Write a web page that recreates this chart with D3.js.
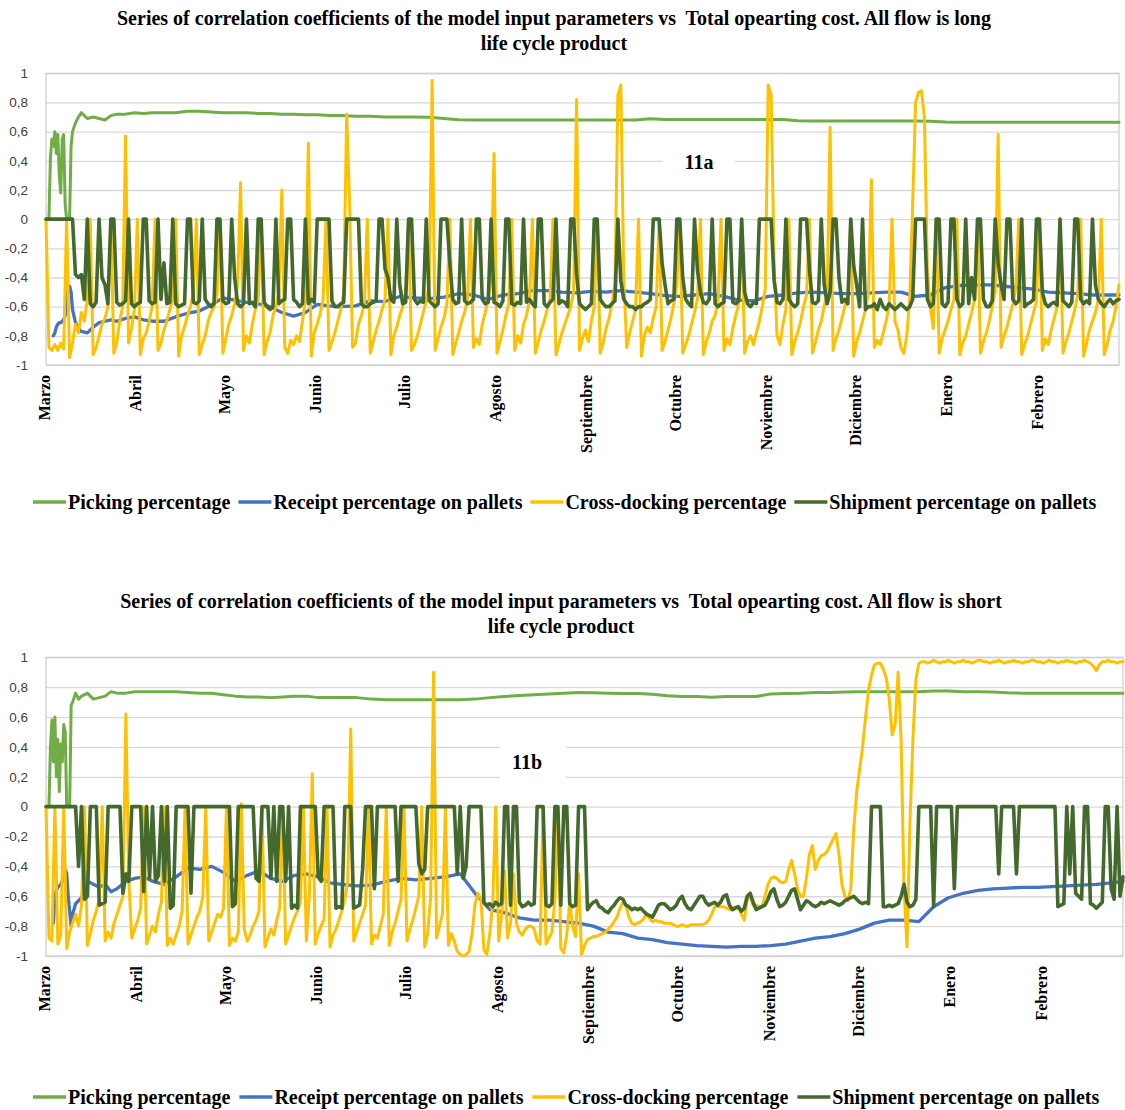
<!DOCTYPE html>
<html>
<head>
<meta charset="utf-8">
<script src="https://cdn.jsdelivr.net/npm/d3@7"></script>
<style>
  body { margin: 0; background: #fff; }
  svg { display: block; }
</style>
</head>
<body>
<svg id="chart" width="1125" height="1110"></svg>
<script>
// ---- Axis labels ----
const months = ["Marzo","Abril","Mayo","Junio","Julio","Agosto","Septiembre","Octubre","Noviembre","Diciembre","Enero","Febrero"];
const monthStartDays = [0,31,61,92,122,153,184,214,245,275,306,337];
const yTicks = [-1,-0.8,-0.6,-0.4,-0.2,0,0.2,0.4,0.6,0.8,1];

const seriesNames = ["Picking percentage","Receipt percentage on pallets","Cross-docking percentage","Shipment percentage on pallets"];
const seriesColors = ["#70ad47","#4472c4","#ffc000","#44692d"];

// Days at which the slowly varying series are sampled
const smoothDays = [0,1,1.5,2,2.5,3,3.5,4,4.5,5,5.5,6,6.5,7,7.5,8,8.5,9,10,11,12,14,16,18,20,22,24,27,30,33,36,
  40,44,48,52,56,60,64,68,72,76,80,84,88,92,96,100,
  105,110,115,120,125,130,135,140,145,150,155,160,165,170,175,180,185,190,195,200,205,210,215,220,225,230,235,240,
  245,250,255,260,265,270,275,280,285,290,295,300,305,310,315,320,325,330,335,340,345,350,355,360,364];

// ---- 11a: long life cycle product ----
const pickingLong = [0,0,.42,.55,.5,.6,.45,.58,.3,.18,.55,.58,.1,0,0,0,.5,.6,
  .66,.7,.73,.69,.7,.69,.68,.71,.72,.72,.73,.725,.73,
  .73,.73,.74,.74,.735,.73,.73,.73,.725,.725,.72,.72,.715,.715,.71,.71,
  .705,.705,.7,.7,.7,.698,.69,.682,.68,.68,.68,.68,.68,.68,.68,.68,.68,.68,.68,.68,.688,.684,.684,.684,.684,.684,.684,.684,
  .684,.683,.674,.673,.673,.673,.673,.673,.673,.673,.673,.672,.666,.665,.665,.665,.665,.665,.665,.665,.665,.665,.665,.665,.665];

const receiptLong = [null,null,null,null,-.8,-.78,-.74,-.72,-.71,-.71,-.7,-.69,-.66,-.56,-.48,-.46,-.5,-.62,
  -.71,-.75,-.77,-.78,-.74,-.71,-.7,-.69,-.7,-.68,-.67,-.69,-.7,
  -.7,-.67,-.645,-.63,-.59,-.54,-.555,-.57,-.58,-.6,-.64,-.665,-.64,-.585,-.595,-.6,
  -.595,-.56,-.565,-.53,-.54,-.545,-.535,-.51,-.52,-.55,-.52,-.51,-.49,-.49,-.5,-.505,-.495,-.5,-.49,-.5,-.51,-.525,-.53,-.52,-.51,-.53,-.555,-.56,
  -.53,-.52,-.505,-.5,-.505,-.51,-.51,-.505,-.5,-.5,-.53,-.52,-.47,-.455,-.45,-.45,-.46,-.47,-.48,-.5,-.505,-.51,-.52,-.52,-.52];

const crossLong = [
  0,-.88,-.9,-.86,-.9,-.85,-.89,0,-.95,-.85,
  -.72,-.78,-.64,-.7,-.55,0,-.93,-.88,-.8,-.72,
  -.68,-.6,0,-.92,-.85,-.7,-.6,.57,-.85,-.75,
  -.62,0,-.93,-.82,-.78,-.7,-.6,0,-.9,-.85,
  -.76,-.7,-.62,-.55,0,-.94,-.8,-.74,-.66,-.6,
  -.5,0,-.93,-.86,-.8,-.7,-.64,-.6,-.52,0,
  -.92,-.82,-.72,-.66,-.58,-.45,.25,-.9,-.8,-.85,
  -.72,-.62,-.55,0,-.93,-.84,-.78,-.66,-.6,-.5,
  .2,-.88,-.92,-.83,-.86,-.8,-.84,-.7,-.55,.52,
  -.94,-.78,-.72,-.65,-.55,0,-.9,-.84,-.78,-.7,
  -.62,-.5,.72,.1,-.88,-.85,-.72,-.66,-.58,0,
  -.92,-.84,-.76,-.7,-.62,-.55,0,-.93,-.8,-.74,
  -.66,-.6,-.5,0,-.9,-.86,-.8,-.72,-.64,-.56,
  -.45,.95,-.9,-.82,-.74,-.68,-.58,0,-.93,-.85,
  -.78,-.7,-.64,-.55,0,-.88,-.82,-.86,-.72,-.64,
  -.55,-.4,.45,-.92,-.84,-.76,-.66,-.58,0,-.9,
  -.8,-.85,-.72,-.66,-.56,0,-.92,-.84,-.76,-.7,
  -.62,-.55,0,-.93,-.86,-.78,-.72,-.66,-.6,-.5,
  .82,-.9,-.82,-.76,-.84,-.7,-.6,0,-.92,-.85,
  -.75,-.68,-.58,-.45,.85,.92,-.4,-.88,-.78,-.7,
  -.62,0,-.94,-.8,-.74,-.78,-.68,-.6,0,-.9,
  -.84,-.76,-.68,-.58,-.45,0,-.92,-.86,-.8,-.72,
  -.64,-.55,0,-.93,-.84,-.78,-.7,-.66,-.56,0,
  -.9,-.82,-.86,-.75,-.66,-.58,0,-.92,-.84,-.8,
  -.86,-.78,-.7,-.6,-.48,.92,.85,-.3,-.8,-.86,
  -.72,-.62,0,-.93,-.84,-.78,-.7,-.6,-.52,0,
  -.92,-.85,-.76,-.7,-.6,-.5,.63,-.9,-.82,-.76,
  -.68,-.6,-.52,0,-.94,-.84,-.78,-.7,-.62,-.5,
  .27,-.88,-.83,-.86,-.78,-.7,-.6,0,-.7,-.76,
  -.88,-.92,-.8,-.55,.1,.8,.87,.88,.7,-.35,
  -.6,-.75,0,-.92,-.82,-.76,-.7,-.62,-.55,0,
  -.93,-.85,-.8,-.72,-.64,-.55,0,-.92,-.84,-.78,
  -.7,-.6,-.5,.58,-.88,-.8,-.74,-.66,-.58,-.48,
  0,-.93,-.86,-.8,-.72,-.64,-.56,0,-.9,-.82,
  -.86,-.76,-.68,-.6,0,-.92,-.84,-.78,-.7,-.62,
  -.52,0,-.94,-.85,-.76,-.7,-.64,-.55,0,-.93,
  -.86,-.76,-.7,-.6,-.45];

const shipLong = [
  0,0,0,0,0,0,0,0,0,0,
  -.38,-.4,-.38,-.55,0,-.58,-.6,-.57,0,-.4,
  -.45,-.58,0,0,-.57,-.59,-.58,-.56,0,-.58,
  -.6,-.58,-.57,0,0,-.56,-.58,-.57,0,-.55,
  -.3,-.58,-.57,0,-.58,-.6,-.59,-.58,0,0,
  -.57,-.58,-.56,0,-.55,-.58,-.6,-.58,0,0,
  -.56,-.58,-.57,0,-.4,-.58,-.6,-.58,0,-.58,
  -.57,-.6,0,0,-.57,-.6,-.62,-.6,0,-.58,
  -.56,-.55,0,0,-.55,-.57,-.6,-.58,0,-.58,
  -.55,-.57,0,0,0,0,0,-.56,-.6,-.6,
  -.58,-.57,0,0,0,0,0,-.58,-.6,-.6,
  -.58,-.57,-.56,0,0,-.34,-.4,-.55,-.57,0,
  -.45,-.58,-.57,0,0,-.55,-.58,-.56,-.57,0,
  -.56,-.58,-.6,-.58,0,0,0,-.3,-.55,-.58,
  -.57,0,-.56,-.58,-.57,-.55,0,0,-.55,-.58,
  -.57,0,-.57,-.58,-.6,-.56,0,0,-.58,-.59,
  -.57,-.58,0,-.57,-.55,-.58,-.6,0,0,-.58,
  -.6,-.57,-.55,0,-.58,-.56,-.57,-.6,0,0,
  -.38,-.58,-.6,-.62,-.6,-.58,0,0,-.55,-.58,
  -.6,-.6,-.58,-.56,0,-.42,-.55,-.58,-.6,-.6,
  -.62,-.6,-.6,-.58,-.57,-.55,0,0,0,-.3,
  -.45,-.58,-.56,-.55,0,0,-.4,-.55,-.58,-.6,
  0,-.35,-.5,-.57,-.58,-.55,0,-.58,-.6,-.58,
  -.57,0,0,-.57,-.58,-.56,0,-.5,-.58,-.6,
  -.57,-.58,0,0,0,0,0,-.42,-.57,-.58,
  -.55,0,-.55,-.58,-.6,-.58,0,0,0,-.35,
  -.57,-.58,-.56,0,-.45,-.58,-.5,0,0,-.4,
  -.57,-.55,-.58,0,-.32,-.45,-.6,0,-.62,-.6,
  -.6,-.58,-.62,-.55,-.6,-.62,-.58,-.6,-.62,-.6,
  -.58,-.6,-.62,-.6,-.55,0,0,0,0,-.55,
  -.6,-.58,0,0,-.58,-.6,-.57,0,0,-.55,
  -.6,-.58,0,-.58,-.4,-.55,0,0,-.55,-.6,
  -.6,-.56,0,-.3,-.45,-.55,0,0,-.55,-.58,
  -.56,0,-.6,-.58,-.57,-.55,0,0,-.5,-.58,
  -.6,-.58,-.57,-.59,0,-.56,-.58,-.6,-.57,0,
  0,-.55,-.58,-.56,-.58,0,-.45,-.55,-.58,-.6,
  -.57,-.55,-.58,-.56,-.55];

// ---- 11b: short life cycle product ----
const pickingShort = [0,0,.4,.58,.3,.6,.2,.45,.1,.42,.3,.55,.5,0,0,0,.68,.7,
  .76,.72,.74,.76,.72,.73,.74,.77,.76,.76,.77,.77,.77,
  .77,.77,.765,.76,.76,.75,.74,.735,.735,.73,.735,.74,.74,.73,.73,.73,
  .73,.72,.715,.715,.715,.715,.715,.715,.72,.73,.737,.745,.75,.755,.76,.765,.762,.76,.758,.757,.752,.742,.737,.737,.733,.738,.737,.737,
  .755,.758,.76,.765,.765,.768,.77,.77,.77,.77,.77,.775,.775,.77,.77,.768,.762,.76,.76,.76,.76,.76,.76,.76,.76];

const receiptShort = [null,null,null,null,-.78,-.6,-.56,-.54,-.53,-.52,-.5,-.45,-.42,-.45,-.6,-.7,-.8,-.72,
  -.65,-.63,-.61,-.5,-.52,-.54,-.52,-.57,-.55,-.5,-.48,-.47,-.5,
  -.52,-.47,-.41,-.42,-.4,-.44,-.5,-.46,-.43,-.48,-.5,-.46,-.45,-.47,-.51,-.52,
  -.53,-.525,-.5,-.48,-.49,-.48,-.47,-.45,-.58,-.69,-.71,-.745,-.76,-.76,-.77,-.78,-.8,-.84,-.85,-.88,-.89,-.91,-.92,-.93,-.935,-.94,-.935,-.935,
  -.93,-.92,-.9,-.88,-.87,-.85,-.82,-.78,-.76,-.76,-.77,-.67,-.61,-.58,-.56,-.55,-.545,-.54,-.54,-.535,-.53,-.525,-.52,-.51,-.5];

const crossShort = [
  0,-.88,-.9,0,-.92,-.86,0,-.95,-.84,-.78,
  -.72,-.8,-.66,0,-.93,-.85,-.76,-.7,-.62,0,
  -.9,-.84,-.88,-.78,-.72,-.66,-.6,.62,-.5,-.88,
  -.82,-.76,-.68,0,-.92,-.86,-.8,-.84,-.72,-.64,
  0,-.93,-.88,-.92,-.86,-.8,-.7,0,-.92,-.86,
  -.8,-.74,-.7,-.6,0,-.9,-.84,-.78,-.72,-.74,
  -.68,0,-.93,-.88,-.9,-.84,.02,-.82,-.9,-.86,
  -.8,-.76,-.7,0,-.94,-.88,-.82,-.86,-.76,-.68,
  0,-.92,-.86,-.8,-.74,-.7,-.64,0,-.9,-.6,
  .22,-.92,-.85,-.8,-.75,0,-.94,-.86,-.82,-.76,
  -.7,-.62,-.5,.52,-.9,-.84,-.78,-.72,-.66,0,
  -.92,-.86,-.88,-.8,-.72,0,-.93,-.84,-.78,-.7,
  -.62,0,-.9,-.82,-.76,-.68,-.6,0,-.94,-.85,
  -.6,.9,-.88,-.8,-.72,0,-.93,-.85,-.9,-.97,
  -.99,-1,-.99,-.97,-.85,-.65,-.58,-.62,-.96,-.99,
  -.85,-.64,0,-.9,-.72,-.43,-.88,-.78,-.45,-.78,
  -.84,-.86,-.82,-.8,-.8,-.82,-.9,-.92,0,-.92,
  -.88,-.84,-.62,0,-.95,-.98,-.86,-.64,-.8,-.87,
  -.45,-.99,-.93,-.89,-.88,-.87,-.87,-.86,-.85,-.84,
  -.82,-.8,-.77,-.74,-.68,-.64,-.66,-.74,-.78,-.79,
  -.78,-.77,-.75,-.72,-.75,-.77,-.76,-.77,-.77,-.78,
  -.78,-.78,-.79,-.8,-.8,-.79,-.8,-.8,-.79,-.79,
  -.79,-.79,-.79,-.78,-.76,-.72,-.67,-.67,-.67,-.67,
  -.68,-.69,-.68,-.67,-.67,-.72,-.76,-.62,-.6,-.66,
  -.66,-.67,-.67,-.6,-.52,-.48,-.47,-.48,-.5,-.51,
  -.5,-.42,-.36,-.45,-.55,-.6,-.6,-.48,-.32,-.26,
  -.42,-.36,-.33,-.32,-.3,-.26,-.22,-.18,-.32,-.52,
  -.6,-.63,-.55,-.15,.1,.25,.4,.6,.78,.88,
  .95,.96,.96,.92,.86,.72,.48,.55,.9,.45,
  -.55,-.94,-.1,.45,.85,.96,.97,.97,.96,.97,
  .98,.97,.96,.97,.97,.98,.97,.96,.97,.97,
  .98,.97,.97,.96,.97,.98,.98,.97,.97,.96,
  .97,.97,.98,.97,.96,.97,.97,.98,.97,.97,
  .96,.97,.97,.98,.98,.97,.97,.96,.97,.98,
  .97,.97,.96,.97,.97,.98,.97,.97,.96,.97,
  .97,.98,.97,.96,.94,.91,.95,.97,.97,.98,
  .97,.97,.96,.97,.97];

const shipShort = [
  0,0,0,0,0,0,0,0,0,0,
  0,-.4,0,-.62,-.6,0,0,0,-.66,-.65,
  -.64,0,0,0,0,0,-.58,-.45,-.5,0,
  0,0,0,-.57,0,-.48,0,-.5,-.46,0,
  -.5,0,-.68,-.66,0,0,0,0,0,-.58,
  0,0,0,0,0,0,0,0,0,0,
  0,0,0,-.67,-.65,0,0,0,0,0,
  0,-.48,-.5,0,0,0,-.48,0,-.5,0,
  0,-.5,0,-.68,-.66,-.68,0,0,0,0,
  0,0,-.47,-.5,0,0,0,0,-.68,-.67,
  -.68,0,0,0,-.68,-.67,-.66,-.42,0,0,
  0,-.55,0,0,0,0,0,0,0,-.5,
  0,0,0,0,0,0,-.38,-.45,-.42,0,
  0,0,0,0,0,0,0,0,0,-.45,
  0,-.48,-.4,0,0,0,0,0,-.64,-.66,
  -.65,-.67,-.64,-.66,-.65,0,0,-.66,0,0,
  -.64,-.67,-.66,-.64,-.66,-.65,0,0,0,-.66,
  -.67,-.65,0,0,-.66,0,0,-.65,-.67,-.66,
  0,0,0,-.69,-.66,-.64,-.63,-.67,-.68,-.7,
  -.71,-.68,-.66,-.63,-.61,-.62,-.66,-.67,-.69,-.68,
  -.69,-.68,-.7,-.72,-.73,-.74,-.7,-.66,-.65,-.65,
  -.67,-.69,-.68,-.66,-.62,-.6,-.65,-.68,-.69,-.66,
  -.63,-.6,-.6,-.64,-.66,-.65,-.64,-.66,-.64,-.6,
  -.59,-.66,-.69,-.68,-.67,-.7,-.68,-.6,-.58,-.64,
  -.69,-.68,-.67,-.66,-.62,-.57,-.55,-.62,-.67,-.66,
  -.64,-.6,-.56,-.55,-.62,-.69,-.66,-.63,-.64,-.66,
  -.67,-.66,-.64,-.65,-.64,-.63,-.64,-.65,-.66,-.65,
  -.63,-.62,-.61,-.6,-.62,-.64,-.65,-.64,-.65,0,
  0,0,0,-.67,-.67,-.66,-.67,-.66,-.65,-.6,
  -.52,-.64,-.67,-.66,-.62,0,0,0,0,0,
  -.67,0,0,0,0,0,0,-.55,0,0,
  0,0,0,0,0,0,0,0,0,0,
  0,0,-.45,0,0,0,0,0,-.45,0,
  0,0,0,0,0,0,0,0,0,0,
  0,0,-.67,-.66,-.65,0,-.45,0,-.58,-.6,
  -.62,0,0,-.65,-.66,-.68,-.66,-.64,0,0,
  -.55,-.62,0,-.6,-.47];

// ---- Panel layout ----
const panels = [
  {
    title: ["Series of correlation coefficients of the model input parameters vs  Total opearting cost. All flow is long", "life cycle product"],
    titleX: 554, titleY: [25, 50],
    left: 46, right: 1119, top: 73.3, bottom: 365,
    tag: "11a", tagX: 699, tagY: 162, tagBox: [663, 140, 72, 44],
    legendY: 502, legendGap: 8,
    picking: pickingLong, receipt: receiptLong, cross: crossLong, ship: shipLong
  },
  {
    title: ["Series of correlation coefficients of the model input parameters vs  Total opearting cost. All flow is short", "life cycle product"],
    titleX: 561, titleY: [608, 633],
    left: 46, right: 1123, top: 657.3, bottom: 956,
    tag: "11b", tagX: 527, tagY: 762, tagBox: [500, 738, 66, 48],
    legendY: 1097, legendGap: 9,
    picking: pickingShort, receipt: receiptShort, cross: crossShort, ship: shipShort
  }
];

const svg = d3.select("#chart");
const serif = "'Liberation Serif', 'Times New Roman', serif";
const sans = "'Liberation Sans', Arial, sans-serif";
const fmt = v => (Math.abs(v) < 1e-9 ? "0" : String(+v.toFixed(1)).replace(".", ","));

panels.forEach(p => {
  const g = svg.append("g");
  const x = d3.scaleLinear().domain([0, 364]).range([p.left, p.right]);
  const y = d3.scaleLinear().domain([-1, 1]).range([p.bottom, p.top]);

  // title
  g.append("text")
    .attr("x", p.titleX).attr("text-anchor", "middle")
    .style("font-family", serif).style("font-weight", "bold").style("font-size", "20px")
    .style("white-space", "pre").attr("fill", "#000")
    .selectAll("tspan").data(p.title).join("tspan")
      .attr("x", p.titleX).attr("y", (d, i) => p.titleY[i]).text(d => d);

  // horizontal gridlines
  g.append("g").attr("transform", `translate(${p.left},0)`)
    .call(d3.axisLeft(y).tickValues(yTicks).tickSize(-(p.right - p.left)).tickFormat(""))
    .call(a => a.select(".domain").remove())
    .call(a => a.selectAll("line").attr("stroke", "#d9d9d9").attr("stroke-width", 1.3));

  // plot border
  g.append("rect").attr("x", p.left).attr("y", p.top)
    .attr("width", p.right - p.left).attr("height", p.bottom - p.top)
    .attr("fill", "none").attr("stroke", "#d0d0d0").attr("stroke-width", 1.3);

  // panel tag with white backing
  g.append("rect").attr("x", p.tagBox[0]).attr("y", p.tagBox[1])
    .attr("width", p.tagBox[2]).attr("height", p.tagBox[3]).attr("fill", "#fff");
  g.append("text").attr("x", p.tagX).attr("y", p.tagY).attr("dy", "0.35em")
    .attr("text-anchor", "middle")
    .style("font-family", serif).style("font-weight", "bold").style("font-size", "20px")
    .text(p.tag);

  // y axis labels
  g.append("g").attr("transform", `translate(${p.left - 15},0)`)
    .call(d3.axisLeft(y).tickValues(yTicks).tickSize(0).tickFormat(fmt))
    .call(a => a.select(".domain").remove())
    .call(a => a.selectAll("text").style("font-family", sans).style("font-size", "13.5px").attr("fill", "#404040"));

  // x axis month labels
  g.append("g").attr("transform", `translate(0,${p.bottom})`)
    .call(d3.axisBottom(x).tickValues(monthStartDays).tickSize(0).tickFormat((d, i) => months[i]))
    .call(a => a.select(".domain").remove())
    .call(a => a.selectAll("text")
      .attr("transform", "rotate(-90)")
      .attr("x", -10).attr("y", 0).attr("dy", "0.22em")
      .attr("text-anchor", "end")
      .style("font-family", serif).style("font-weight", "bold").style("font-size", "16px")
      .attr("fill", "#000"));

  // series
  const smoothLine = d3.line().defined(d => d[1] != null).x(d => x(d[0])).y(d => y(d[1]));
  const dailyLine = d3.line().x(d => x(d[0])).y(d => y(d[1]));
  const series = [
    { data: d3.zip(smoothDays, p.picking), line: smoothLine, w: 3 },
    { data: d3.zip(smoothDays, p.receipt), line: smoothLine, w: 3.3 },
    { data: p.cross.map((v, i) => [i, v]), line: dailyLine, w: 3 },
    { data: p.ship.map((v, i) => [i, v]), line: dailyLine, w: 3.6 }
  ];
  series.forEach((s, i) => {
    g.append("path").datum(s.data)
      .attr("d", s.line)
      .attr("fill", "none").attr("stroke", seriesColors[i])
      .attr("stroke-width", s.w).attr("stroke-linejoin", "round").attr("stroke-linecap", "round");
  });

  // legend
  const lg = g.append("g");
  let cx = 33;
  seriesNames.forEach((name, i) => {
    lg.append("line").attr("x1", cx).attr("x2", cx + 33)
      .attr("y1", p.legendY).attr("y2", p.legendY)
      .attr("stroke", seriesColors[i]).attr("stroke-width", 3.5);
    const t = lg.append("text").attr("x", cx + 35).attr("y", p.legendY).attr("dy", "0.35em")
      .style("font-family", serif).style("font-weight", "bold").style("font-size", "20px")
      .text(name);
    cx += 35 + t.node().getComputedTextLength() + p.legendGap;
  });
});
</script>
</body>
</html>
